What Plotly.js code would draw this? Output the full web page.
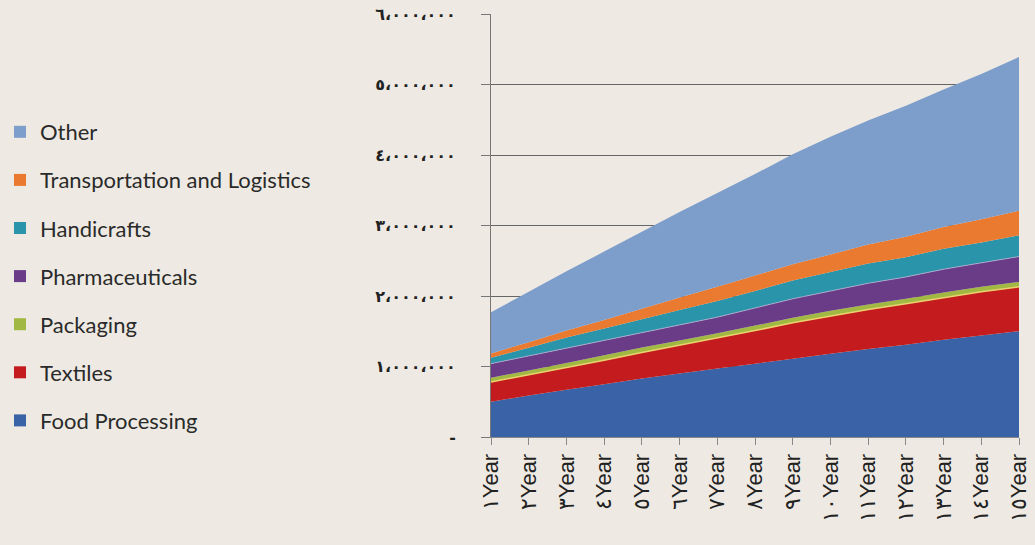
<!DOCTYPE html>
<html>
<head>
<meta charset="utf-8">
<script src="https://cdn.plot.ly/plotly-3.0.1.min.js"></script>
<style>
html,body{margin:0;padding:0;background:#eeeae3;}
#chart{width:1035px;height:545px;}
</style>
</head>
<body>
<div id="chart"></div>
<script>
// Categories (x axis)
const years = ['١Year','٢Year','٣Year','٤Year','٥Year','٦Year','٧Year','٨Year','٩Year','١٠Year','١١Year','١٢Year','١٣Year','١٤Year','١٥Year'];

// Series values
const foodProcessing  = [500000,590000,670000,750000,830000,900000,970000,1040000,1110000,1180000,1250000,1310000,1380000,1440000,1500000];
const textiles        = [280000,290000,310000,340000,370000,400000,430000,470000,510000,540000,560000,580000,600000,620000,630000];
const packaging       = [60000,65000,70000,70000,70000,70000,70000,70000,70000,70000,70000,70000,70000,70000,70000];
const pharmaceuticals = [200000,200000,210000,210000,210000,220000,230000,250000,270000,280000,300000,310000,330000,340000,360000];
const handicrafts     = [85000,120000,150000,170000,190000,210000,230000,240000,260000,270000,280000,280000,290000,290000,300000];
const transportation  = [60000,80000,100000,120000,150000,180000,200000,220000,230000,250000,270000,290000,310000,330000,350000];
const other           = [585000,715000,840000,970000,1090000,1210000,1330000,1440000,1560000,1670000,1760000,1860000,1950000,2060000,2180000];

// Y tick labels
const yTickVals = [0,1000000,2000000,3000000,4000000,5000000,6000000];
const yTickText = ['-','١،٠٠٠،٠٠٠','٢،٠٠٠،٠٠٠','٣،٠٠٠،٠٠٠','٤،٠٠٠،٠٠٠','٥،٠٠٠،٠٠٠','٦،٠٠٠،٠٠٠'];

const seriesNames  = ['Food Processing','Textiles','Packaging','Pharmaceuticals','Handicrafts','Transportation and Logistics','Other'];
const seriesValues = [foodProcessing,textiles,packaging,pharmaceuticals,handicrafts,transportation,other];
const seriesColors = ['#3a62a7','#c41c1e','#a1b842','#6a3c88','#2a95aa','#e97a30','#7d9dcb'];
const edgeColors   = ['#3a62a7','#ead36e','#a1b842','#b9aed0','#2a95aa','#e97a30','#7d9dcb'];
const edgeWidths   = [0,1.5,0,0.8,0,0,0];

const traces = [];
seriesNames.forEach((name,i)=>{
  traces.push({
    type:'scatter', mode: edgeWidths[i] > 0 ? 'lines' : 'none',
    x:years, y:seriesValues[i], name:name,
    stackgroup:'one', fillcolor:seriesColors[i],
    line:{width:edgeWidths[i], color:edgeColors[i]},
    showlegend:false, hoverinfo:'skip'
  });
});
// legend entries (square swatches), listed top (Other) to bottom (Food Processing)
for (let i = seriesNames.length - 1; i >= 0; i--) {
  traces.push({
    type:'bar', x:[years[0]], y:[null], name:seriesNames[i], legendgroup:'g'+i,
    marker:{color:seriesColors[i], line:{width:0}}, showlegend:true, hoverinfo:'skip'
  });
}

const layout = {
  width:1035, height:545,
  margin:{l:491, r:16, t:14, b:108},
  paper_bgcolor:'#eeeae3', plot_bgcolor:'#eeeae3',
  showlegend:true,
  legend:{
    xref:'container', yref:'container', x:0.0, y:1-111/545, xanchor:'left', yanchor:'top',
    traceorder:'grouped', tracegroupgap:16.5, maxheight:530,
    font:{family:'Lato, "DejaVu Sans", sans-serif', size:22, color:'#2a2a2a'},
    bgcolor:'rgba(0,0,0,0)', borderwidth:0
  },
  xaxis:{
    type:'category', range:[0,14], showgrid:false, zeroline:false,
    showline:true, linecolor:'#888', linewidth:1,
    ticks:'outside', ticklen:7, tickcolor:'#888', tickangle:-90,
    tickfont:{family:'"Liberation Sans", "DejaVu Sans", sans-serif', size:22, color:'#222'}
  },
  yaxis:{
    range:[0,6000000], tickvals:yTickVals, ticktext:yTickText,
    showgrid:true, gridcolor:'#666', gridwidth:1, zeroline:false,
    showline:true, linecolor:'#777', linewidth:1,
    ticks:'outside', ticklen:9, tickcolor:'#777', ticklabelstandoff:22,
    tickfont:{family:'"DejaVu Sans", sans-serif', size:16, color:'#222', weight:'bold'}
  },
  hovermode:false
};

Plotly.newPlot('chart', traces, layout, {staticPlot:true, displayModeBar:false});
</script>
</body>
</html>
